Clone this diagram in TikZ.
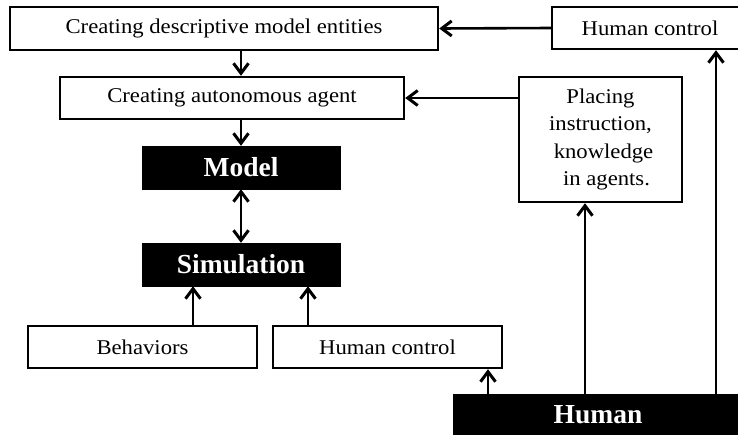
\documentclass[tikz,border=0pt]{standalone}
\usepackage{fontspec}
\setmainfont[FakeStretch=1.08]{Liberation Serif}
\newfontfamily\plainserif{Liberation Serif}
\usetikzlibrary{arrows.meta}
\tikzset{
  box/.style={draw=black, line width=2.4pt, fill=white, rectangle, inner sep=0pt,
    font=\fontsize{21}{27.5}\selectfont, align=center},
  darkbox/.style={draw=black, fill=black, rectangle, inner sep=0pt, text=white,
    font=\plainserif\bfseries\fontsize{27.5}{30}\selectfont},
  tip/.style={},
  arr/.style={line width=2.6pt, -{Straight Barb[length=10pt,width=15pt,line width=3pt]}},
  darr/.style={line width=2.6pt, {Straight Barb[length=10pt,width=15pt,line width=3pt]}-{Straight Barb[length=10pt,width=15pt,line width=3pt]}}
}
\begin{document}
\begin{tikzpicture}[x=1pt,y=-1pt]
\useasboundingbox (0,0) rectangle (738,434);
\fill[white] (0,0) rectangle (738,434);
% nodes
\node[box, minimum width=428pt, minimum height=43pt] (cdme) at (224,28.5) {Creating descriptive model entities};
\node[box, minimum width=196pt, minimum height=42pt] (hctop) at (650,28) {Human control};
\node[box, minimum width=344pt, minimum height=42pt] (caa) at (232,98) {Creating autonomous agent};
\node[box, minimum width=163pt, minimum height=125pt] (place) at (600.5,139.5) {Placing\\instruction,\\\hspace{6pt}knowledge\\\hspace{12pt}in agents.};
\node[darkbox, minimum width=198pt, minimum height=43pt] (model) at (241,167.5) {Model};
\node[darkbox, minimum width=198pt, minimum height=43pt] (sim) at (241,264.5) {Simulation};
\node[box, minimum width=229pt, minimum height=42pt] (beh) at (142.5,347) {Behaviors};
\node[box, minimum width=229pt, minimum height=42pt] (hcbot) at (387.5,347) {Human control};
\node[darkbox, minimum width=290pt, minimum height=42pt] (human) at (598,415) {Human};
% connectors
\draw[arr] (hctop.west) -- (cdme.east);
\draw[arr] (cdme.south -| model.north) -- (caa.north -| model.north);
\draw[arr] (place.west |- caa.east) -- (caa.east);
\draw[arr] (caa.south -| model.north) -- (model.north);
\draw[darr] (model.south) -- (sim.north);
\draw[arr] (beh.north -| 193,0) -- (sim.south -| 193,0);
\draw[arr] (hcbot.north -| 308,0) -- (sim.south -| 308,0);
\draw[arr] (human.north -| 488,0) -- (hcbot.south -| 488,0);
\draw[arr] (human.north -| 585,0) -- (place.south -| 585,0);
\draw[arr] (human.north -| 716,0) -- (hctop.south -| 716,0);
\end{tikzpicture}
\end{document}
